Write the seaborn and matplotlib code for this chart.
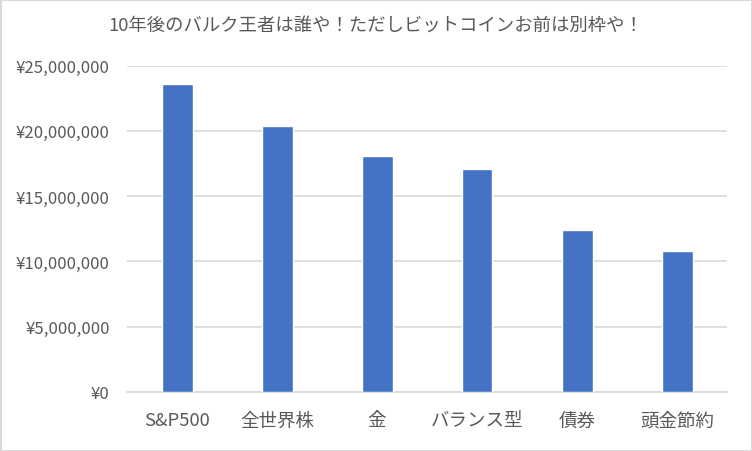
import matplotlib
matplotlib.use("Agg")
import matplotlib.pyplot as plt
import matplotlib.ticker as mticker
import seaborn as sns
import pandas as pd

categories = ["S&P500", "全世界株", "金", "バランス型", "債券", "頭金節約"]
values = [23_550_000, 20_400_000, 18_100_000, 17_100_000, 12_400_000, 10_800_000]
title = "10年後のバルク王者は誰や！ただしビットコインお前は別枠や！"
yticks = [0, 5_000_000, 10_000_000, 15_000_000, 20_000_000, 25_000_000]

sns.set_theme(style="white")
plt.rcParams['font.family'] = ['Noto Sans CJK JP', 'DejaVu Sans']

df = pd.DataFrame({"cat": categories, "val": values})
text_color = "#595959"

fig = plt.figure(figsize=(7.52, 4.52), dpi=100)
ax = fig.add_axes([127/752, 1-393/452, 600/752, (393-66.5)/452])
sns.barplot(data=df, x="cat", y="val", color="#4472C4", width=0.31,
            saturation=1, ax=ax, zorder=3)
ax.set_ylim(0, 25_000_000)
ax.set_xlim(-0.5, len(categories)-0.5)
ax.set_yticks(yticks)
ax.yaxis.set_major_formatter(mticker.FuncFormatter(lambda v, p: f"¥{int(v):,}"))
ax.grid(axis="y", color="#D9D9D9", linewidth=1.2, zorder=0)
for s in ["top", "right", "left"]:
    ax.spines[s].set_visible(False)
ax.spines["bottom"].set_color("#D9D9D9")
ax.spines["bottom"].set_linewidth(1.2)
ax.set_xlabel("")
ax.set_ylabel("")
ax.tick_params(axis="y", length=0, pad=12.5, labelsize=12.1, labelcolor=text_color)
ax.tick_params(axis="x", length=0, pad=14, labelsize=13.3, labelcolor=text_color)
fig.text(0.5, 1-27/452, title, ha="center", va="center", fontsize=13.2, color=text_color)
fig.patches.append(plt.Rectangle((0.5/752, 0.5/452), 751/752, 451/452, transform=fig.transFigure,
                                 fill=False, edgecolor="#D9D9D9", linewidth=1.5))
fig.savefig("out.png", dpi=100)
